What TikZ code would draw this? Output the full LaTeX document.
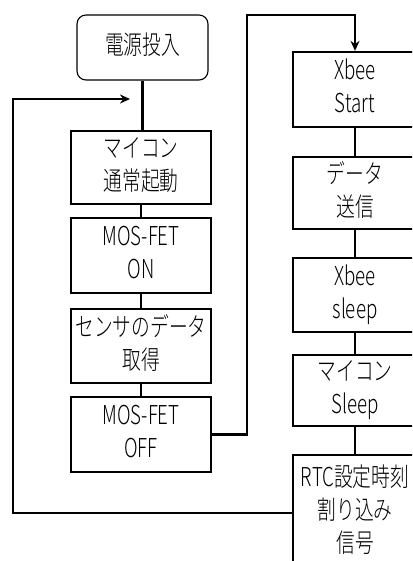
\documentclass[tikz,border=0pt]{standalone}
\usepackage{fontspec}
\newfontfamily\cjk{Noto Sans CJK JP Light}
\usetikzlibrary{arrows.meta,calc}
\newcommand\tx[1]{\scalebox{0.72}[1]{\begin{tabular}{@{}c@{}}#1\end{tabular}}}
\tikzset{
  stepbox/.style={draw, line width=2.3pt, minimum width=140pt, inner sep=0pt,
    font=\cjk\fontsize{26}{33}\selectfont},
  rbox/.style={stepbox, minimum width=124pt},
  startbox/.style={draw, line width=1.1pt, rounded corners=9pt, minimum width=131pt,
    minimum height=65pt, inner sep=0pt, font=\cjk\fontsize{26}{33}\selectfont},
  conn/.style={line width=2.3pt},
  arr/.style={conn, -{Stealth[length=10pt,width=9pt]}}
}
\begin{document}
\begin{tikzpicture}[x=1pt,y=-1pt]
\useasboundingbox (0,0) rectangle (412,561);
\begin{scope}
\clip (0,0) rectangle (412,561);
\node[startbox] (p) at (142.5,47.5) {\tx{電源投入}};
\node[stepbox, minimum height=73pt] (m1) at (141,167.5) {\tx{マイコン\\通常起動}};
\node[stepbox, minimum height=75pt] (m2) at (141,255.5) {\tx{MOS-FET\\ON}};
\node[stepbox, minimum height=74pt] (m3) at (141,346) {\tx{センサのデータ\\取得}};
\node[stepbox, minimum height=75pt] (m4) at (141,434.5) {\tx{MOS-FET\\OFF}};
\node[rbox, minimum height=75pt] (r1) at (355,89.5) {\tx{Xbee\\Start}};
\node[rbox, minimum height=72pt] (r2) at (355,193) {\tx{データ\\送信}};
\node[rbox, minimum height=74pt] (r3) at (355,295) {\tx{Xbee\\sleep}};
\node[rbox, minimum height=71pt] (r4) at (355,390.5) {\tx{マイコン\\Sleep}};
\node[rbox, minimum height=116pt] (r5) at (355,513) {\tx{RTC設定時刻\\割り込み\\信号}};
\coordinate (ret) at (130,99);
\draw[conn] (p.south) -- (p.south |- m1.north);
\draw[conn] (m1) -- (m2);
\draw[conn] (m2) -- (m3);
\draw[conn] (m3) -- (m4);
\draw[arr] (m4.east) -- (247,434.5) -- (247,15) -- (355,15) -- (r1.north);
\draw[conn] (r1) -- (r2);
\draw[conn] (r2) -- (r3);
\draw[conn] (r3) -- (r4);
\draw[conn] (r4) -- (r5);
\draw[arr] (r5.west) -- (13,513) -- (13,99) -- (ret);
\end{scope}
\end{tikzpicture}
\end{document}
